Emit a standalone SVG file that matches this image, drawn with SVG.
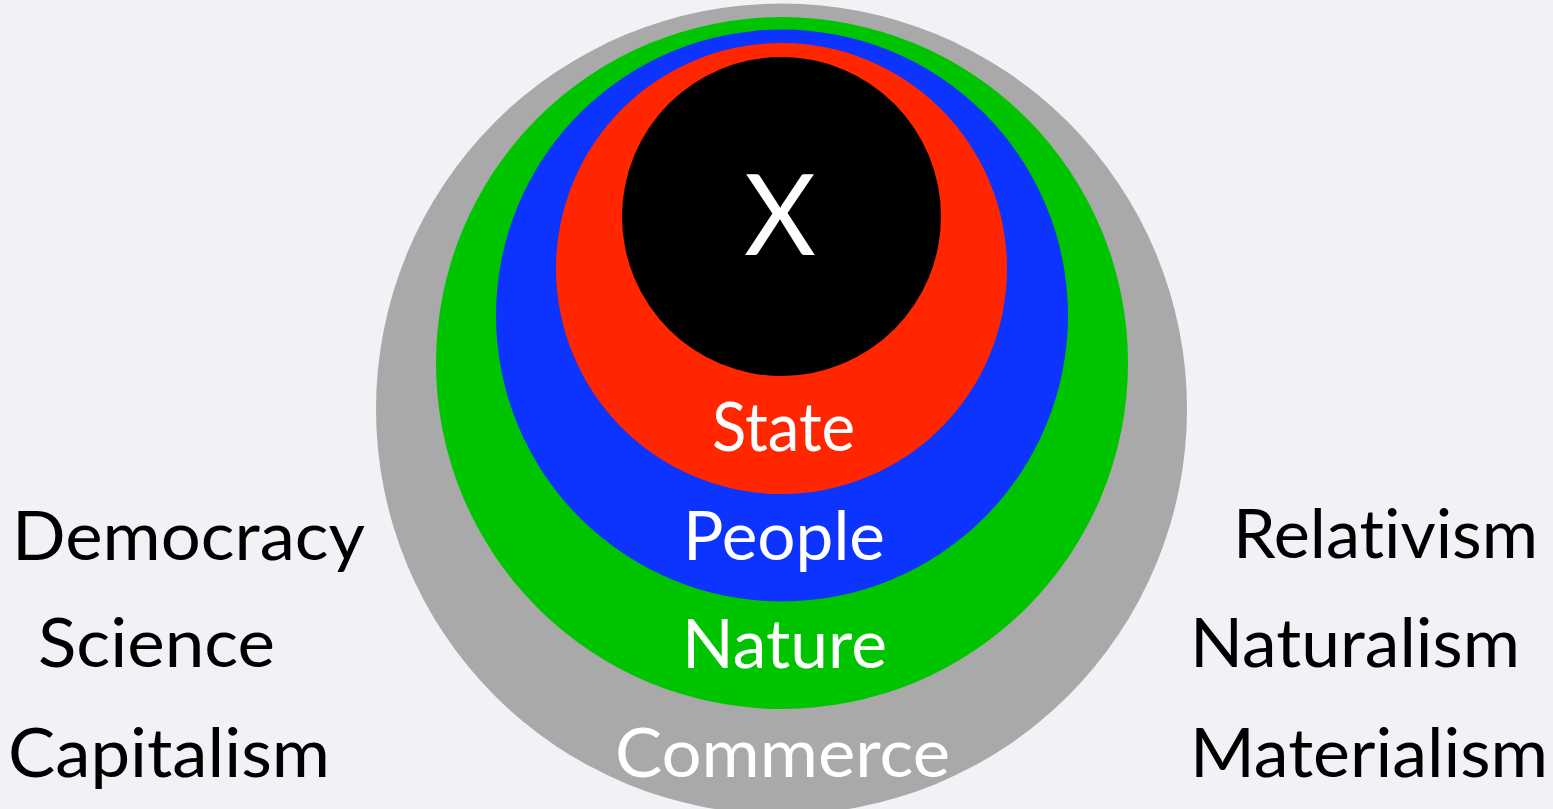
<svg xmlns="http://www.w3.org/2000/svg" width="1553" height="809" viewBox="0 0 1553 809">
<style>
.t{font-family:"Lato","Open Sans","Liberation Sans",sans-serif;font-size:68px;font-weight:400;font-variant-ligatures:none;}
.w{fill:#ffffff;}
.k{fill:#000000;}
</style>
<rect x="0" y="0" width="1553" height="809" fill="#f2f1f6"/>
<g id="commerce"><circle cx="781.5" cy="409" r="405.5" fill="#a9a9a9"/></g>
<g id="nature"><circle cx="782" cy="363" r="346" fill="#00c400"/></g>
<g id="people"><circle cx="782" cy="315.5" r="286" fill="#0d33ff"/></g>
<g id="state"><circle cx="781.5" cy="268.5" r="225.5" fill="#ff2600"/></g>
<g id="x"><circle cx="781.5" cy="216.5" r="159.5" fill="#000000"/>
<text class="t w" x="780" y="255" text-anchor="middle" style="font-size:112px" textLength="72" lengthAdjust="spacingAndGlyphs">X</text></g>
<g id="labels">
<text class="t w" x="712" y="451" textLength="143" lengthAdjust="spacingAndGlyphs">State</text>
<text class="t w" x="683" y="560" textLength="202" lengthAdjust="spacingAndGlyphs">People</text>
<text class="t w" x="682" y="668" textLength="205" lengthAdjust="spacingAndGlyphs">Nature</text>
<text class="t w" x="615" y="777" textLength="335" lengthAdjust="spacingAndGlyphs">Commerce</text>
</g>
<g id="left">
<text class="t k" x="12" y="560" textLength="353" lengthAdjust="spacingAndGlyphs">Democracy</text>
<text class="t k" x="38" y="667" textLength="237" lengthAdjust="spacingAndGlyphs">Science</text>
<text class="t k" x="8" y="777" textLength="322" lengthAdjust="spacingAndGlyphs">Capitalism</text>
</g>
<g id="right">
<text class="t k" x="1233" y="558" textLength="305" lengthAdjust="spacingAndGlyphs">Relativism</text>
<text class="t k" x="1190" y="667" textLength="330" lengthAdjust="spacingAndGlyphs">Naturalism</text>
<text class="t k" x="1190" y="777" textLength="358" lengthAdjust="spacingAndGlyphs">Materialism</text>
</g>
<g id="connectors"></g>
</svg>
